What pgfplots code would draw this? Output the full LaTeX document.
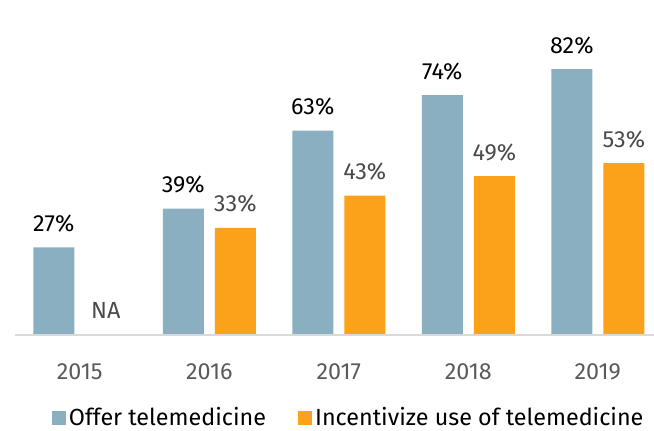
\documentclass[border=0pt]{standalone}
\usepackage{pgfplots}
\pgfplotsset{compat=1.18}
\usepackage{pgfplotstable}
\usepackage{fontspec}
\setmainfont{Fira Sans}
\definecolor{cblue}{HTML}{8AAFC0}
\definecolor{corange}{HTML}{FBA21A}
\definecolor{clabgray}{HTML}{4A4A4A}
\definecolor{cticks}{HTML}{5A5A5A}
\definecolor{caxis}{HTML}{D9D9D9}
\pgfplotstableread{
x y lab
0 27 27\%
1 39 39\%
2 63 63\%
3 74 74\%
4 82 82\%
}\offer
\pgfplotstableread{
x y lab
0 0 NA
1 33 33\%
2 43 43\%
3 49 49\%
4 53 53\%
}\incent
\begin{document}
\fontsize{17.5}{20}\selectfont
\begin{tikzpicture}
\begin{axis}[
  scale only axis,
  width=479.25pt, height=251.25pt,
  xmin=-0.5, xmax=4.434,
  ymin=0, ymax=103.3,
  ybar=8.25pt, bar width=30.75pt,
  axis on top,
  axis y line=none,
  axis x line*=bottom,
  x axis line style={caxis, line width=1.5pt, -},
  xtick={0,1,2,3,4},
  xticklabels={2015,2016,2017,2018,2019},
  major tick length=0pt,
  xticklabel style={anchor=base, yshift=-33.5pt, text=cticks, font=\fontsize{17.5}{20}\selectfont},
  /pgf/number format/assume math mode=true,
  clip=false,
  point meta=explicit symbolic,
  nodes near coords={\pgfplotspointmeta},
  every node near coord/.append style={anchor=base, yshift=12pt, font=\fontsize{17.5}{20}\selectfont},
  legend columns=2,
  legend style={draw=none, fill=none, inner sep=0pt, outer sep=0pt,
    at={([xshift=27.75pt, yshift=-62.25pt]rel axis cs:0,0)}, anchor=west,
    font=\fontsize{17.5}{20}\selectfont,
    /tikz/every even column/.append style={column sep=22pt},
    nodes={inner sep=2.2pt}},
  legend image code/.code={\fill[#1] (0pt,-5.25pt) rectangle (10.5pt,5.25pt);},
]
\addplot[fill=cblue, draw=none,
  every node near coord/.append style={text=black}]
  table[x=x, y=y, meta=lab] {\offer};
\addlegendentry{Offer telemedicine}
\addplot[fill=corange, draw=none,
  every node near coord/.append style={text=clabgray}]
  table[x=x, y=y, meta=lab] {\incent};
\addlegendentry{Incentivize use of telemedicine}
\end{axis}
\pgfresetboundingbox
\path[use as bounding box] ([xshift=-11.25pt,yshift=-72pt]current axis.south west) rectangle (current axis.north east);
\end{tikzpicture}
\end{document}
